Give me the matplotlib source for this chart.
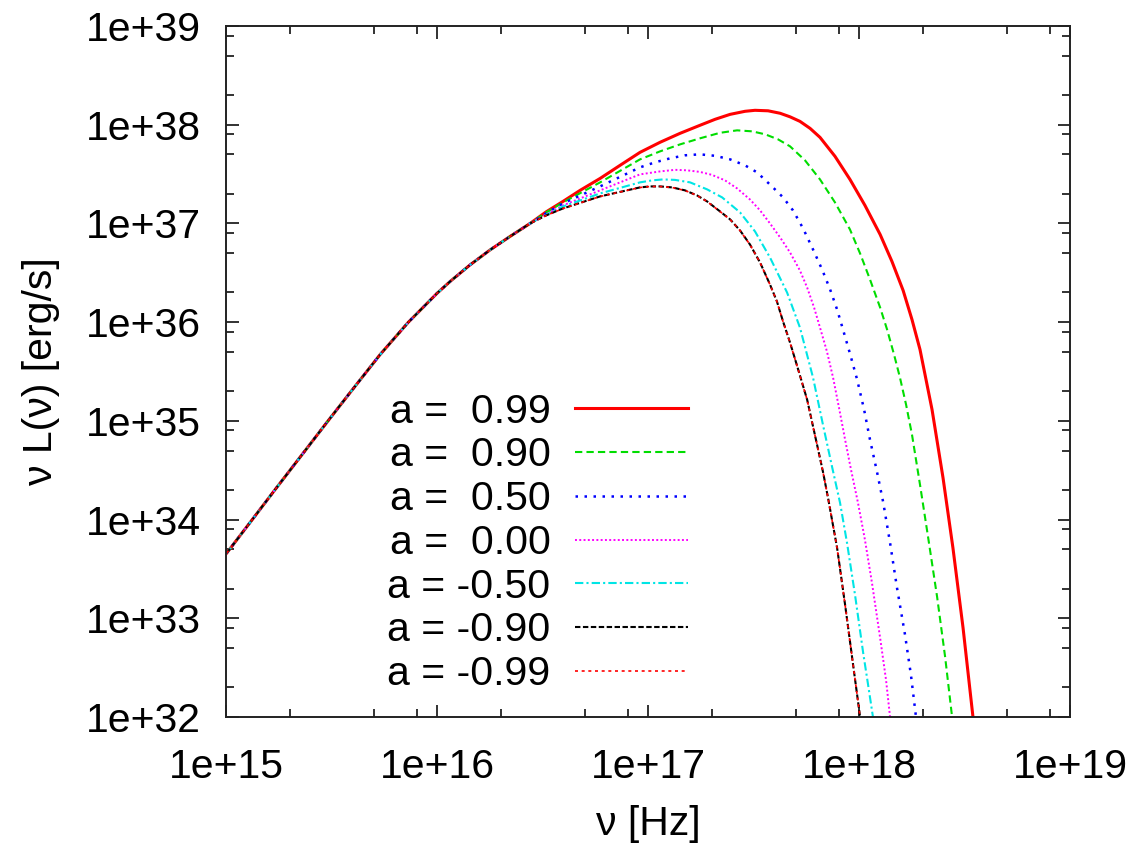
import matplotlib
matplotlib.use("Agg")
import matplotlib.pyplot as plt
import numpy as np
from matplotlib.ticker import FixedLocator, LogLocator, NullFormatter

plt.rcParams['font.family'] = ['Liberation Sans', 'DejaVu Sans']

# all values are log10: frequency in Hz, nu L_nu in erg/s
# low-frequency part, the same for every spin
lnu_low = [15.003, 15.122, 15.232, 15.351, 15.477, 15.588, 15.730, 15.864,
           15.999, 16.062, 16.156, 16.251, 16.346, 16.441]
lL_low = [33.660, 33.993, 34.302, 34.632, 34.982, 35.286, 35.671, 35.999,
          36.290, 36.412, 36.579, 36.731, 36.868, 37.000]

# high-frequency part for each spin a
lnu_p099 = [16.517, 16.597, 16.678, 16.773, 16.867, 16.962, 17.057, 17.152, 17.246,
            17.318, 17.389, 17.460, 17.507, 17.569, 17.626, 17.673, 17.720, 17.768,
            17.815, 17.886, 17.957, 18.028, 18.100, 18.156, 18.209, 18.251, 18.289,
            18.346, 18.398, 18.445, 18.493, 18.540]
lL_p099 = [37.117, 37.223, 37.335, 37.456, 37.588, 37.720, 37.822, 37.913, 37.994,
           38.055, 38.105, 38.136, 38.146, 38.141, 38.116, 38.080, 38.034, 37.963,
           37.872, 37.680, 37.446, 37.183, 36.888, 36.615, 36.321, 36.026, 35.722,
           35.114, 34.424, 33.714, 32.903, 32.000]

lnu_p090 = [16.517, 16.597, 16.773, 16.962, 17.057, 17.152, 17.246, 17.341, 17.422,
            17.493, 17.555, 17.616, 17.673, 17.744, 17.815, 17.886, 17.957, 18.005,
            18.052, 18.100, 18.133, 18.166, 18.194, 18.223, 18.251, 18.289, 18.327,
            18.370, 18.408, 18.441]
lL_p090 = [37.112, 37.213, 37.416, 37.649, 37.730, 37.801, 37.862, 37.918, 37.943,
           37.933, 37.903, 37.852, 37.781, 37.639, 37.446, 37.213, 36.939, 36.696,
           36.432, 36.148, 35.925, 35.671, 35.438, 35.164, 34.860, 34.353, 33.826,
           33.217, 32.609, 32.000]

lnu_p050 = [16.517, 16.597, 16.773, 16.962, 17.033, 17.104, 17.175, 17.246, 17.318,
            17.389, 17.460, 17.517, 17.592, 17.640, 17.687, 17.735, 17.782, 17.825,
            17.863, 17.896, 17.924, 17.957, 17.991, 18.024, 18.052, 18.085, 18.114,
            18.147, 18.180, 18.218, 18.246, 18.270]
lL_p050 = [37.102, 37.203, 37.375, 37.568, 37.619, 37.659, 37.690, 37.700, 37.685,
           37.649, 37.588, 37.517, 37.365, 37.264, 37.132, 36.949, 36.736, 36.533,
           36.331, 36.128, 35.925, 35.682, 35.418, 35.114, 34.809, 34.485, 34.181,
           33.765, 33.308, 32.832, 32.426, 32.000]

lnu_p000 = [16.517, 16.597, 16.773, 16.962, 17.057, 17.128, 17.185, 17.246, 17.303,
            17.365, 17.422, 17.483, 17.531, 17.578, 17.626, 17.673, 17.720, 17.754,
            17.787, 17.815, 17.848, 17.877, 17.905, 17.934, 17.962, 17.995, 18.028,
            18.062, 18.100, 18.128, 18.147]
lL_p000 = [37.091, 37.183, 37.335, 37.497, 37.527, 37.543, 37.538, 37.522, 37.492,
           37.436, 37.355, 37.243, 37.132, 37.000, 36.858, 36.706, 36.523, 36.351,
           36.148, 35.945, 35.702, 35.438, 35.134, 34.809, 34.505, 34.170, 33.795,
           33.349, 32.801, 32.375, 32.000]

lnu_m050 = [16.517, 16.597, 16.773, 16.962, 17.019, 17.071, 17.128, 17.199, 17.280,
            17.351, 17.436, 17.507, 17.578, 17.659, 17.720, 17.782, 17.829, 17.872,
            17.910, 17.943, 17.981, 18.019, 18.043, 18.066]
lL_m050 = [37.086, 37.172, 37.304, 37.416, 37.436, 37.446, 37.441, 37.416, 37.345,
           37.264, 37.112, 36.919, 36.655, 36.300, 35.945, 35.438, 34.961, 34.536,
           34.170, 33.765, 33.237, 32.659, 32.325, 32.000]

lnu_m090 = [16.517, 16.597, 16.773, 16.962, 17.009, 17.057, 17.114, 17.175, 17.232,
            17.280, 17.341, 17.389, 17.436, 17.483, 17.531, 17.578, 17.611, 17.640,
            17.673, 17.706, 17.754, 17.801, 17.829, 17.853, 17.896, 17.934, 17.972,
            18.005]
lL_m090 = [37.081, 37.152, 37.274, 37.365, 37.375, 37.375, 37.365, 37.335, 37.284,
           37.223, 37.122, 37.041, 36.929, 36.787, 36.604, 36.381, 36.209, 36.006,
           35.793, 35.560, 35.215, 34.759, 34.485, 34.221, 33.714, 33.136, 32.527,
           32.000]

lnu_m099 = [16.517, 16.597, 16.773, 16.962, 17.009, 17.057, 17.114, 17.175, 17.232,
            17.280, 17.341, 17.389, 17.436, 17.483, 17.531, 17.578, 17.611, 17.640,
            17.673, 17.706, 17.754, 17.801, 17.829, 17.853, 17.896, 17.934, 17.972,
            18.005]
lL_m099 = [37.080, 37.151, 37.273, 37.364, 37.374, 37.374, 37.364, 37.334, 37.283,
           37.222, 37.121, 37.040, 36.928, 36.786, 36.603, 36.380, 36.208, 36.005,
           35.792, 35.559, 35.214, 34.758, 34.484, 34.220, 33.713, 33.135, 32.526,
           32.000]

spins = [0.99, 0.90, 0.50, 0.00, -0.50, -0.90, -0.99]
lnu_high = [lnu_p099, lnu_p090, lnu_p050, lnu_p000, lnu_m050, lnu_m090, lnu_m099]
lL_high = [lL_p099, lL_p090, lL_p050, lL_p000, lL_m050, lL_m090, lL_m099]

colors = ['#ff0000', '#00dd00', '#0000ff', '#ff00ff', '#00e5e5', '#000000', '#ff0000']
styles = ['-', (0, (3.5, 2)), (0, (1, 2.6)), (0, (1, 1.2)),
          (0, (4, 1.5, 1, 1.5)), (0, (2.6, 1.2)), (0, (1.8, 2.2))]
widths = [2.2, 1.5, 1.8, 1.4, 1.5, 1.5, 1.2]

xticks = [1e15, 1e16, 1e17, 1e18, 1e19]
xlabels = ['1e+15', '1e+16', '1e+17', '1e+18', '1e+19']
yticks = [1e32, 1e33, 1e34, 1e35, 1e36, 1e37, 1e38, 1e39]
ylabels = ['1e+32', '1e+33', '1e+34', '1e+35', '1e+36', '1e+37', '1e+38', '1e+39']

fig = plt.figure(figsize=(11.41, 8.5), dpi=100)
ax = fig.add_axes([0.1981, 0.1565, 0.7397, 0.8129])

for a, lnu, lL, c, ls, lw in zip(spins, lnu_high, lL_high, colors, styles, widths):
    nu = 10.0 ** np.array(lnu_low + lnu)
    L = 10.0 ** np.array(lL_low + lL)
    ax.plot(nu, L, color=c, linestyle=ls, linewidth=lw, label='a = %5.2f' % a)

ax.set_xscale('log')
ax.set_yscale('log')
ax.set_xlim(1e15, 1e19)
ax.set_ylim(1e32, 1e39)

ax.xaxis.set_major_locator(FixedLocator(xticks))
ax.set_xticklabels(xlabels)
ax.yaxis.set_major_locator(FixedLocator(yticks))
ax.set_yticklabels(ylabels)
ax.xaxis.set_minor_locator(LogLocator(base=10, subs=[2, 5, 8], numticks=20))
ax.yaxis.set_minor_locator(LogLocator(base=10, subs=[2, 5, 8], numticks=20))
ax.xaxis.set_minor_formatter(NullFormatter())
ax.yaxis.set_minor_formatter(NullFormatter())

ax.tick_params(which='both', direction='in', top=True, right=True, width=1.3,
               color='#222222')
ax.tick_params(which='major', length=9, labelsize=29.5)
ax.tick_params(which='minor', length=5.5)
ax.tick_params(axis='x', which='major', pad=22)
ax.tick_params(axis='y', which='major', pad=18)
for sp in ax.spines.values():
    sp.set_linewidth(1.4)
    sp.set_color('#222222')

ax.set_xlabel('ν [Hz]', fontsize=29.5)
ax.set_ylabel('ν L(ν) [erg/s]', fontsize=29.5)
ax.xaxis.set_label_coords(0.5, -0.128)
ax.yaxis.set_label_coords(-0.197, 0.5)

ax.legend(loc='center right', bbox_to_anchor=(0.547, 0.252), frameon=False,
          markerfirst=False, fontsize=29.5, handlelength=2.75, handletextpad=0.6,
          labelspacing=0.14, borderpad=0, borderaxespad=0)

fig.savefig('out.png', dpi=100)
